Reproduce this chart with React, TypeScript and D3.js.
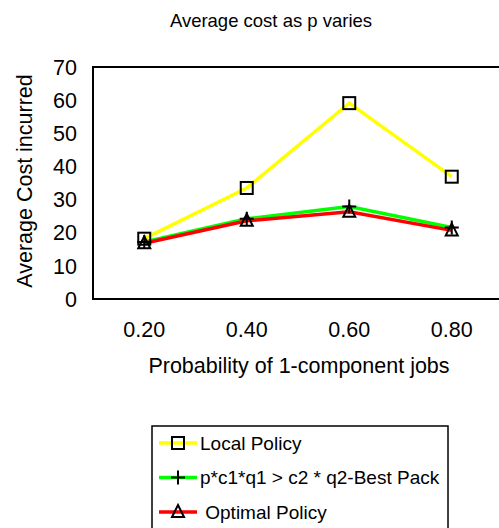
import * as d3 from "d3";
import React from "react";

const probabilities = ["0.20", "0.40", "0.60", "0.80"];
const localPolicy = [18.2, 33.5, 59.1, 36.9];
const bestPack = [17.2, 24.2, 27.9, 21.6];
const optimalPolicy = [16.8, 23.6, 26.3, 20.7];
const yTicks = [0, 10, 20, 30, 40, 50, 60, 70];

const series = [
  { name: "Local Policy", values: localPolicy, color: "#ffff00", marker: "square" },
  { name: "p*c1*q1 > c2 * q2-Best Pack", values: bestPack, color: "#00ff00", marker: "plus" },
  { name: " Optimal Policy", values: optimalPolicy, color: "#ff0000", marker: "triangle" },
];

const font = "'Liberation Sans', Arial, Helvetica, sans-serif";

const Marker = ({ kind, x, y }: { kind: string; x: number; y: number }) => {
  if (kind === "square")
    return <rect x={x - 6} y={y - 6} width={12} height={12} fill="none" stroke="#000" strokeWidth={2} />;
  if (kind === "plus")
    return (
      <path d={`M${x - 7},${y}H${x + 7}M${x},${y - 7}V${y + 7}`} stroke="#000" strokeWidth={2} fill="none" />
    );
  return (
    <path d={`M${x},${y - 7}L${x + 6},${y + 5}L${x - 6},${y + 5}Z`} fill="none" stroke="#000" strokeWidth={2} />
  );
};

const App = () => {
  const width = 499;
  const height = 528;
  const margins = { top: 67, right: -4, bottom: 229, left: 93 };
  const innerWidth = width - margins.left - margins.right;
  const innerHeight = height - margins.top - margins.bottom;

  const xScale = d3.scaleBand().domain(probabilities).range([0, innerWidth]);
  const yScale = d3.scaleLinear().domain([0, 70]).range([innerHeight, 0]);
  const cx = (p: string) => (xScale(p) ?? 0) + xScale.bandwidth() / 2;

  const line = d3
    .line<number>()
    .x((_, i) => cx(probabilities[i]))
    .y((d) => yScale(d));

  return (
    <svg
      width={width}
      height={height}
      style={{ position: "absolute", left: 0, top: 0, background: "#fff" }}
      fontFamily={font}
    >
      <text x={271} y={27} textAnchor="middle" fontSize={18.5}>
        Average cost as p varies
      </text>
      <g transform={`translate(${margins.left},${margins.top})`}>
        <rect x={0} y={0} width={innerWidth} height={innerHeight} fill="none" stroke="#000" strokeWidth={2} />
        {yTicks.map((t) => (
          <text key={t} x={-16} y={yScale(t)} dy="0.36em" textAnchor="end" fontSize={21.5}>
            {t}
          </text>
        ))}
        {probabilities.map((p) => (
          <text key={p} x={cx(p)} y={innerHeight + 38} textAnchor="middle" fontSize={21.5}>
            {p}
          </text>
        ))}
        {series.map((s) => (
          <path key={s.name} d={line(s.values) ?? ""} fill="none" stroke={s.color} strokeWidth={3.5} />
        ))}
        {series.map((s) =>
          s.values.map((v, i) => (
            <Marker key={s.name + i} kind={s.marker} x={cx(probabilities[i])} y={yScale(v)} />
          ))
        )}
      </g>
      <text x={299} y={373} textAnchor="middle" fontSize={21.5}>
        Probability of 1-component jobs
      </text>
      <text transform="translate(32,181) rotate(-90)" textAnchor="middle" fontSize={21.5}>
        Average Cost incurred
      </text>
      <g transform="translate(152,426)">
        <rect x={0} y={0} width={296} height={120} fill="#fff" stroke="#000" strokeWidth={1.5} />
        {series.map((s, i) => {
          const y = 17 + i * 34.5;
          return (
            <g key={s.name}>
              <line x1={7} x2={45} y1={y} y2={y} stroke={s.color} strokeWidth={3.5} />
              <Marker kind={s.marker} x={26} y={y} />
              <text x={48} y={y} dy="0.36em" fontSize={19} style={{ whiteSpace: "pre" }}>
                {s.name}
              </text>
            </g>
          );
        })}
      </g>
    </svg>
  );
};

export default App;
